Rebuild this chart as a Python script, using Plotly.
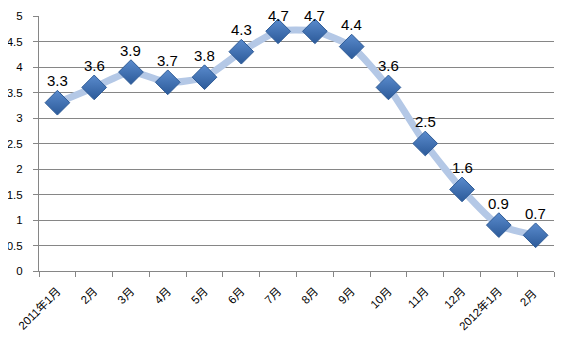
import plotly.graph_objects as go

categories = ["2011年1月", "2月", "3月", "4月", "5月", "6月", "7月", "8月", "9月",
              "10月", "11月", "12月", "2012年1月", "2月 "]
values = [3.3, 3.6, 3.9, 3.7, 3.8, 4.3, 4.7, 4.7, 4.4, 3.6, 2.5, 1.6, 0.9, 0.7]
y_ticks = [0, 0.5, 1, 1.5, 2, 2.5, 3, 3.5, 4, 4.5, 5]
y_tick_labels = ["0", "0.5", "1", "1.5", "2", "2.5", "3", "3.5", "4", "4.5", "5"]

# label offset (style): labels near the top edge are pushed down, as in the original
label_shift = [22, 22, 22, 22, 22, 22, 16, 16, 22, 22, 22, 22, 22, 22]

font_family = "Liberation Sans, Noto Sans CJK SC, sans-serif"

fig = go.Figure()
fig.add_trace(go.Scatter(
    x=categories,
    y=values,
    mode="lines+markers",
    line=dict(color="#B4C8E6", width=7, shape="spline", smoothing=0.6),
    marker=dict(symbol="diamond", size=19, color="#5A8BCD",
                gradient=dict(type="vertical", color="#2C5A99"),
                line=dict(color="#2F5C97", width=1)),
    hoverinfo="x+y",
    cliponaxis=False,
))

annotations = [
    dict(x=c, y=v, text=f"{v:.1f}", showarrow=False, xanchor="center",
         yanchor="middle", yshift=s,
         font=dict(family=font_family, size=15, color="#000000"))
    for c, v, s in zip(categories, values, label_shift)
]

fig.update_layout(
    width=571, height=349,
    margin=dict(l=31, r=25, t=8, b=86, autoexpand=False),
    paper_bgcolor="white",
    plot_bgcolor="white",
    showlegend=False,
    annotations=annotations,
    font=dict(family=font_family, size=11, color="#000000"),
    xaxis=dict(
        type="category",
        automargin=False,
        tickangle=-45,
        tickson="boundaries",
        ticks="outside",
        ticklen=5,
        tickcolor="#868686",
        ticklabelstandoff=8,
        showline=True,
        linecolor="#868686",
        linewidth=1,
        showgrid=False,
        tickfont=dict(family=font_family, size=11.5, color="#000000"),
        range=[-0.5, len(categories) - 0.5],
    ),
    yaxis=dict(
        automargin=False,
        range=[0, 5],
        tickvals=y_ticks,
        ticktext=y_tick_labels,
        ticks="outside",
        ticklen=5,
        tickcolor="#868686",
        ticklabelstandoff=8,
        showline=True,
        linecolor="#868686",
        linewidth=1,
        showgrid=True,
        gridcolor="#868686",
        gridwidth=1,
        zeroline=False,
        tickfont=dict(family=font_family, size=11.5, color="#000000"),
    ),
)

fig.write_html("out.html")
